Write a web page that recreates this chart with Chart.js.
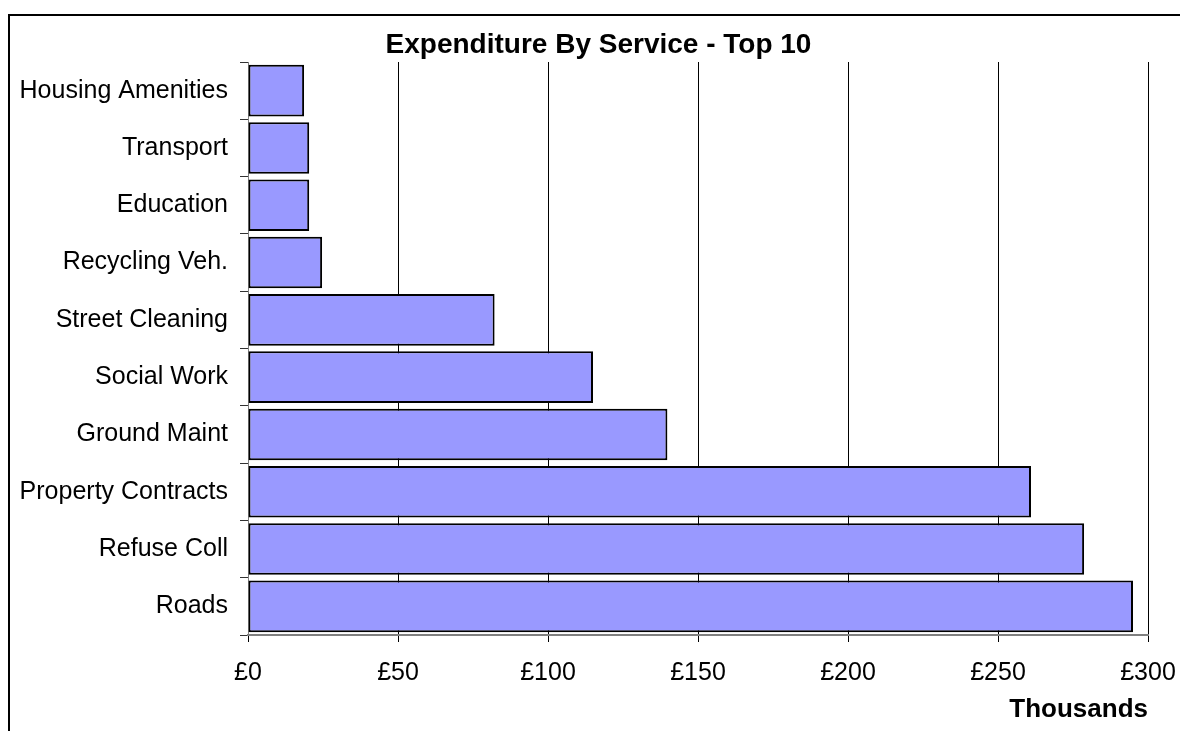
<!DOCTYPE html>
<html>
<head>
<meta charset="utf-8">
<script src="https://cdn.jsdelivr.net/npm/chart.js@4"></script>
<style>
  html, body { margin: 0; padding: 0; background: #fff; }
  #wrap { position: relative; width: 1180px; height: 731px; }
  #frame {
    position: absolute; left: 8px; top: 14px; width: 1180px; height: 730px;
    border-top: 2px solid #000; border-left: 2px solid #000; pointer-events: none;
  }
</style>
</head>
<body>
<div id="wrap">
  <canvas id="myChart"></canvas>
  <div id="frame"></div>
</div>
<script>
var servicios = [
  "Housing Amenities", "Transport", "Education", "Recycling Veh.", "Street Cleaning",
  "Social Work", "Ground Maint", "Property Contracts", "Refuse Coll", "Roads"
];
// gasto en miles de libras
var gasto = [18.7, 20.4, 20.4, 24.7, 82.2, 115, 139.8, 261, 278.7, 295];
var ticksX = [0, 50, 100, 150, 200, 250, 300];
var titulo = "Expenditure By Service - Top 10";

var fuente = "'Liberation Sans', Arial, sans-serif";

function quitarPadding(scale) {
  scale.paddingLeft = 0;
  scale.paddingRight = 0;
  scale.paddingTop = 0;
  scale.paddingBottom = 0;
}

// El titulo del original no esta centrado sobre el area del grafico,
// asi que se dibuja aparte
var tituloCentrado = {
  id: "tituloCentrado",
  afterDraw: function (chart) {
    var c = chart.ctx;
    c.save();
    c.font = "bold 28px " + fuente;
    c.fillStyle = "#000";
    c.textAlign = "center";
    c.textBaseline = "middle";
    c.fillText(titulo, 598.5, 45.3);
    c.restore();
  }
};

var ctx = document.getElementById("myChart").getContext("2d");
new Chart(ctx, {
  type: "bar",
  data: {
    labels: servicios,
    datasets: [{
      label: "Expenditure",
      data: gasto,
      backgroundColor: "#9999ff",
      borderColor: "#000000",
      borderWidth: 2,
      borderSkipped: false,
      categoryPercentage: 1,
      barPercentage: 0.9
    }]
  },
  plugins: [tituloCentrado],
  options: {
    indexAxis: "y",
    responsive: true,
    maintainAspectRatio: false,
    animation: false,
    layout: { padding: { left: 0, right: 32, top: 62, bottom: 0 } },
    plugins: {
      legend: { display: false },
      tooltip: { enabled: false },
      title: { display: false }
    },
    scales: {
      x: {
        min: 0,
        max: 300,
        afterBuildTicks: function (scale) {
          scale.ticks = ticksX.map(function (v) { return { value: v }; });
        },
        afterFit: function (scale) {
          scale.height = 96;
          quitarPadding(scale);
        },
        grid: { color: "#000", lineWidth: 1, tickLength: 7, drawTicks: true },
        border: { color: "#808080", width: 2 },
        ticks: {
          color: "#000",
          padding: 16,
          font: { family: fuente, size: 25 },
          callback: function (v) { return "£" + v; }
        },
        title: {
          display: true,
          text: "Thousands",
          align: "end",
          color: "#000",
          font: { family: fuente, size: 26, weight: "bold", lineHeight: 1.2 },
          padding: { top: 0, bottom: 6 }
        }
      },
      y: {
        afterFit: function (scale) {
          scale.width = 248;
          quitarPadding(scale);
        },
        grid: { drawOnChartArea: false, color: "#333", tickLength: 8 },
        border: { color: "#808080", width: 1 },
        ticks: {
          color: "#000",
          padding: 12,
          font: { family: fuente, size: 25 }
        }
      }
    }
  }
});
</script>
</body>
</html>
